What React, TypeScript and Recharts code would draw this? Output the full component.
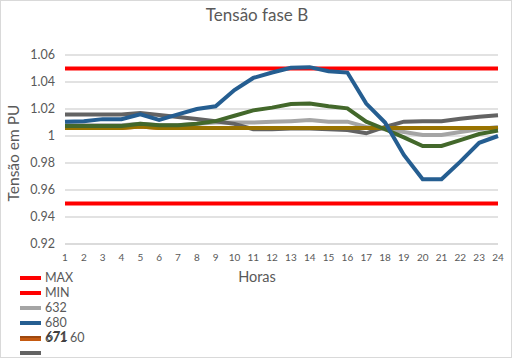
import { LineChart, Line, XAxis, YAxis, CartesianGrid } from 'recharts';

const hours = ['1', '2', '3', '4', '5', '6', '7', '8', '9', '10', '11', '12', '13', '14', '15', '16', '17', '18', '19', '20', '21', '22', '23', '24'];
const yTicks = [0.92, 0.94, 0.96, 0.98, 1, 1.02, 1.04, 1.06];

const maxLimit = [1.05, 1.05, 1.05, 1.05, 1.05, 1.05, 1.05, 1.05, 1.05, 1.05, 1.05, 1.05, 1.05, 1.05, 1.05, 1.05, 1.05, 1.05, 1.05, 1.05, 1.05, 1.05, 1.05, 1.05];
const minLimit = [0.95, 0.95, 0.95, 0.95, 0.95, 0.95, 0.95, 0.95, 0.95, 0.95, 0.95, 0.95, 0.95, 0.95, 0.95, 0.95, 0.95, 0.95, 0.95, 0.95, 0.95, 0.95, 0.95, 0.95];
const bus632 = [1.008, 1.008, 1.008, 1.008, 1.009, 1.008, 1.008, 1.009, 1.01, 1.01, 1.01, 1.0105, 1.011, 1.0118, 1.0106, 1.0106, 1.0067, 1.005, 1.003, 1.0007, 1.0007, 1.003, 1.005, 1.0067];
const bus680 = [1.0105, 1.011, 1.0125, 1.0125, 1.016, 1.012, 1.016, 1.02, 1.022, 1.034, 1.043, 1.047, 1.0505, 1.051, 1.048, 1.047, 1.024, 1.01, 0.986, 0.968, 0.968, 0.981, 0.995, 1.0];
const bus671 = [1.006, 1.006, 1.006, 1.006, 1.007, 1.006, 1.006, 1.006, 1.006, 1.006, 1.006, 1.006, 1.006, 1.006, 1.006, 1.006, 1.006, 1.006, 1.006, 1.006, 1.006, 1.006, 1.006, 1.006];
const bus675 = [1.006, 1.006, 1.006, 1.006, 1.007, 1.006, 1.006, 1.006, 1.006, 1.006, 1.006, 1.006, 1.006, 1.006, 1.006, 1.006, 1.006, 1.006, 1.006, 1.006, 1.006, 1.006, 1.006, 1.006];
const bus60 = [1.0074, 1.0074, 1.0074, 1.0074, 1.009, 1.008, 1.008, 1.009, 1.011, 1.015, 1.019, 1.021, 1.0237, 1.024, 1.022, 1.0205, 1.0106, 1.005, 0.999, 0.9926, 0.9926, 0.997, 1.0015, 1.004];
const busOther = [1.016, 1.016, 1.016, 1.016, 1.017, 1.0155, 1.014, 1.0126, 1.011, 1.009, 1.005, 1.005, 1.0055, 1.0055, 1.005, 1.0044, 1.002, 1.0067, 1.0106, 1.011, 1.011, 1.0128, 1.0143, 1.0153];

const data = hours.map((h, i) => ({
  hora: h,
  max: maxLimit[i],
  min: minLimit[i],
  b632: bus632[i],
  b680: bus680[i],
  b671: bus671[i],
  b675: bus675[i],
  b60: bus60[i],
  other: busOther[i],
}));

const font = 'Lato, "Open Sans", sans-serif';
const textColor = '#595959';

const legendItems = [
  { label: 'MAX', color: '#FF0000', y: 277 },
  { label: 'MIN', color: '#FF0000', y: 292 },
  { label: '632', color: '#A5A5A5', y: 307 },
  { label: '680', color: '#255E91', y: 322 },
];

export default function App() {
  return (
    <div
      style={{
        position: 'fixed',
        left: 0,
        top: 0,
        width: 512,
        height: 358,
        background: '#fff',
        boxSizing: 'border-box',
        border: '1px solid #d9d9d9',
        fontFamily: font,
        overflow: 'hidden',
      }}
    >
      <div style={{ position: 'absolute', top: 3, left: 0, width: 512, textAlign: 'center', fontSize: 17, color: textColor }}>
        Tensão fase B
      </div>
      <div
        style={{
          position: 'absolute',
          left: 12,
          top: 152,
          transform: 'translate(-50%, -50%) rotate(-90deg)',
          fontSize: 15.5,
          color: textColor,
          whiteSpace: 'nowrap',
        }}
      >
        Tensão em PU
      </div>
      <div style={{ position: 'absolute', left: -1, top: -1 }}>
        <LineChart width={512} height={358} data={data} margin={{ top: 55, right: 14, left: 0, bottom: 84 }}>
          <CartesianGrid vertical={false} stroke="#d9d9d9" strokeWidth={1.3} />
          <XAxis
            dataKey="hora"
            height={30}
            tickLine={false}
            axisLine={{ stroke: '#d9d9d9', strokeWidth: 1.3 }}
            tickSize={0}
            tickMargin={10}
            interval={0}
            tick={{ fontSize: 10, fill: textColor, fontFamily: font }}
          />
          <YAxis
            width={65}
            domain={[0.92, 1.06]}
            ticks={yTicks}
            tickFormatter={(v: number) => String(Number(v.toFixed(2)))}
            tickLine={false}
            axisLine={false}
            tickSize={0}
            tickMargin={10}
            tick={{ fontSize: 12.5, fill: textColor, fontFamily: font }}
          />
          <Line dataKey="max" stroke="#FF0000" strokeWidth={4} dot={false} isAnimationActive={false} />
          <Line dataKey="min" stroke="#FF0000" strokeWidth={4} dot={false} isAnimationActive={false} />
          <Line dataKey="b632" stroke="#A5A5A5" strokeWidth={4} dot={false} isAnimationActive={false} />
          <Line dataKey="other" stroke="#636363" strokeWidth={4} dot={false} isAnimationActive={false} />
          <Line dataKey="b671" stroke="#C55A11" strokeWidth={4} dot={false} isAnimationActive={false} />
          <Line dataKey="b675" stroke="#997300" strokeWidth={4} dot={false} isAnimationActive={false} />
          <Line dataKey="b60" stroke="#43682B" strokeWidth={4} dot={false} isAnimationActive={false} />
          <Line dataKey="b680" stroke="#255E91" strokeWidth={4} dot={false} isAnimationActive={false} />
        </LineChart>
      </div>
      <div style={{ position: 'absolute', left: 0, top: 267, width: 512, textAlign: 'center', fontSize: 14.5, color: textColor }}>
        Horas
      </div>
      {legendItems.map((it) => (
        <div key={it.label} style={{ position: 'absolute', left: 19, top: it.y - 8 }}>
          <div style={{ position: 'absolute', left: 0, top: 6, width: 21, height: 4, background: it.color }} />
          <div style={{ position: 'absolute', left: 25, top: 2, fontSize: 12.5, color: textColor, lineHeight: '12px' }}>{it.label}</div>
        </div>
      ))}
      <div style={{ position: 'absolute', left: 19, top: 329 }}>
        <div style={{ position: 'absolute', left: 0, top: 6, width: 21, height: 2, background: '#9E480E' }} />
        <div style={{ position: 'absolute', left: 0, top: 8, width: 21, height: 3, background: '#C55A11' }} />
        <div
          style={{
            position: 'absolute',
            left: 25,
            top: 2,
            fontSize: 12.5,
            color: textColor,
            lineHeight: '12px',
            whiteSpace: 'nowrap',
          }}
        >
          <span style={{ textShadow: '1px -1px 0 #404040', color: '#404040' }}>671</span> 60
        </div>
      </div>
      <div style={{ position: 'absolute', left: 19, top: 344 }}>
        <div style={{ position: 'absolute', left: 0, top: 6, width: 21, height: 4, background: '#636363' }} />
      </div>
    </div>
  );
}
